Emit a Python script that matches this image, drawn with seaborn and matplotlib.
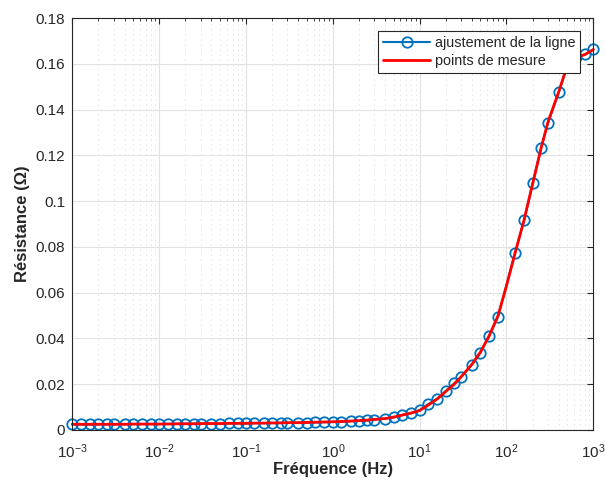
import numpy as np
import pandas as pd
import matplotlib
matplotlib.use("Agg")
import matplotlib.pyplot as plt
import seaborn as sns
from matplotlib.ticker import LogLocator, LogFormatterSciNotation, FuncFormatter, NullFormatter, FixedLocator

# Fitted resistance (blue circles)
freq_fit = [0.001, 0.00125, 0.0016, 0.002, 0.0025, 0.003, 0.004, 0.005, 0.0063, 0.008,
            0.01, 0.0125, 0.016, 0.02, 0.025, 0.03, 0.04, 0.05, 0.063, 0.08,
            0.1, 0.125, 0.16, 0.2, 0.25, 0.3, 0.4, 0.5, 0.63, 0.8,
            1, 1.25, 1.6, 2, 2.5, 3, 4, 5, 6.3, 8,
            10, 12.5, 16, 20, 25, 30, 40, 50, 63, 80,
            125, 160, 200, 250, 300, 400, 500, 630, 800, 1000]
res_fit = [0.0024, 0.0024, 0.0024, 0.0025, 0.0025, 0.0025, 0.0025, 0.0026, 0.0026, 0.0026,
           0.0026, 0.0027, 0.0027, 0.0027, 0.0027, 0.0028, 0.0028, 0.0028, 0.0029, 0.0029,
           0.0029, 0.0030, 0.0030, 0.0030, 0.0031, 0.0031, 0.0032, 0.0032, 0.0033, 0.0034,
           0.0035, 0.0036, 0.0038, 0.0040, 0.0042, 0.0045, 0.0049, 0.0055, 0.0066, 0.0074,
           0.0087, 0.0113, 0.0137, 0.0171, 0.0204, 0.0231, 0.0285, 0.0336, 0.0412, 0.0495,
           0.0772, 0.0917, 0.1079, 0.1233, 0.1340, 0.1475, 0.1595, 0.1630, 0.1641, 0.1663]

# Measured resistance (red line)
freq_meas = [0.001, 0.00125, 0.0016, 0.002, 0.0025, 0.003, 0.004, 0.005, 0.0063, 0.008,
             0.01, 0.0125, 0.016, 0.02, 0.025, 0.03, 0.04, 0.05, 0.063, 0.08,
             0.1, 0.125, 0.16, 0.2, 0.25, 0.3, 0.4, 0.5, 0.63, 0.8,
             1, 1.25, 1.6, 2, 2.5, 3, 4, 5, 6.3, 8,
             10, 12.5, 16, 20, 25, 30, 40, 50, 63, 80,
             100, 125, 160, 200, 250, 300, 400, 500, 630, 800, 1000]
res_meas = [0.0025, 0.0025, 0.0025, 0.0025, 0.0025, 0.0025, 0.0025, 0.0026, 0.0026, 0.0026,
            0.0026, 0.0026, 0.0027, 0.0027, 0.0027, 0.0028, 0.0028, 0.0028, 0.0029, 0.0029,
            0.0029, 0.0030, 0.0030, 0.0031, 0.0031, 0.0032, 0.0032, 0.0033, 0.0034, 0.0035,
            0.0036, 0.0037, 0.0039, 0.0041, 0.0043, 0.0046, 0.0050, 0.0056, 0.0065, 0.0074,
            0.0085, 0.0108, 0.0136, 0.0168, 0.0200, 0.0232, 0.0287, 0.0340, 0.0410, 0.0500,
            0.0630, 0.0770, 0.0920, 0.1075, 0.1230, 0.1345, 0.1478, 0.1590, 0.1628, 0.1640, 0.1662]

x_ticks = [1e-3, 1e-2, 1e-1, 1e0, 1e1, 1e2, 1e3]
y_ticks = [0, 0.02, 0.04, 0.06, 0.08, 0.1, 0.12, 0.14, 0.16, 0.18]

fit_df = pd.DataFrame({"freq": freq_fit, "res": res_fit})
meas_df = pd.DataFrame({"freq": freq_meas, "res": res_meas})

sns.set_theme(style="white")
plt.rcParams["font.family"] = ["Liberation Sans", "DejaVu Sans"]
plt.rcParams["mathtext.default"] = "regular"

ink = "#262626"
fig = plt.figure(figsize=(6.05, 4.84), dpi=100)
ax = fig.add_axes([0.1195, 0.1116, 0.8612, 0.8512])

sns.lineplot(data=fit_df, x="freq", y="res", ax=ax, color="#0072BD", lw=1.5,
             marker="o", markersize=7.5, markerfacecolor="none",
             markeredgecolor="#0072BD", markeredgewidth=1.3,
             label="ajustement de la ligne", estimator=None, clip_on=False)
sns.lineplot(data=meas_df, x="freq", y="res", ax=ax, color="#FF0000", lw=2.0,
             label="points de mesure", estimator=None, clip_on=False)

ax.set_xscale("log")
ax.set_xlim(x_ticks[0], x_ticks[-1])
ax.set_ylim(y_ticks[0], y_ticks[-1])
ax.xaxis.set_major_locator(FixedLocator(x_ticks))
ax.xaxis.set_major_formatter(LogFormatterSciNotation())
ax.xaxis.set_minor_locator(LogLocator(base=10, subs=np.arange(2, 10)))
ax.xaxis.set_minor_formatter(NullFormatter())
ax.yaxis.set_major_locator(FixedLocator(y_ticks))
ax.yaxis.set_major_formatter(FuncFormatter(lambda v, p: "%g" % v))

ax.grid(which="major", axis="both", color="#e2e2e2", lw=0.8, ls="-")
ax.grid(which="minor", axis="x", color="#c8c8c8", lw=0.6, ls=(0, (1, 5)))
ax.set_axisbelow(True)

for s in ax.spines.values():
    s.set_visible(True)
    s.set_color(ink)
    s.set_linewidth(0.8)

ax.tick_params(which="both", direction="in", top=True, right=True,
               colors=ink, labelcolor=ink, labelsize=11)
ax.tick_params(which="major", length=4, width=0.8, pad=5)
ax.tick_params(axis="x", which="major", pad=9)
ax.tick_params(which="minor", length=2.5, width=0.6)

ax.set_xlabel("Fréquence (Hz)", fontsize=12, fontweight="bold", color=ink, labelpad=1)
ax.set_ylabel("Résistance (Ω)", fontsize=12, fontweight="bold", color=ink, labelpad=4)

leg = ax.legend(loc="upper right", fontsize=10.4, frameon=True, fancybox=False,
                edgecolor=ink, framealpha=1, borderaxespad=0.9, handlelength=3.3,
                handletextpad=0.3, labelspacing=0.25, borderpad=0.35)
leg.get_frame().set_linewidth(0.8)
leg.set_zorder(5)

fig.savefig("out.png", dpi=100)
